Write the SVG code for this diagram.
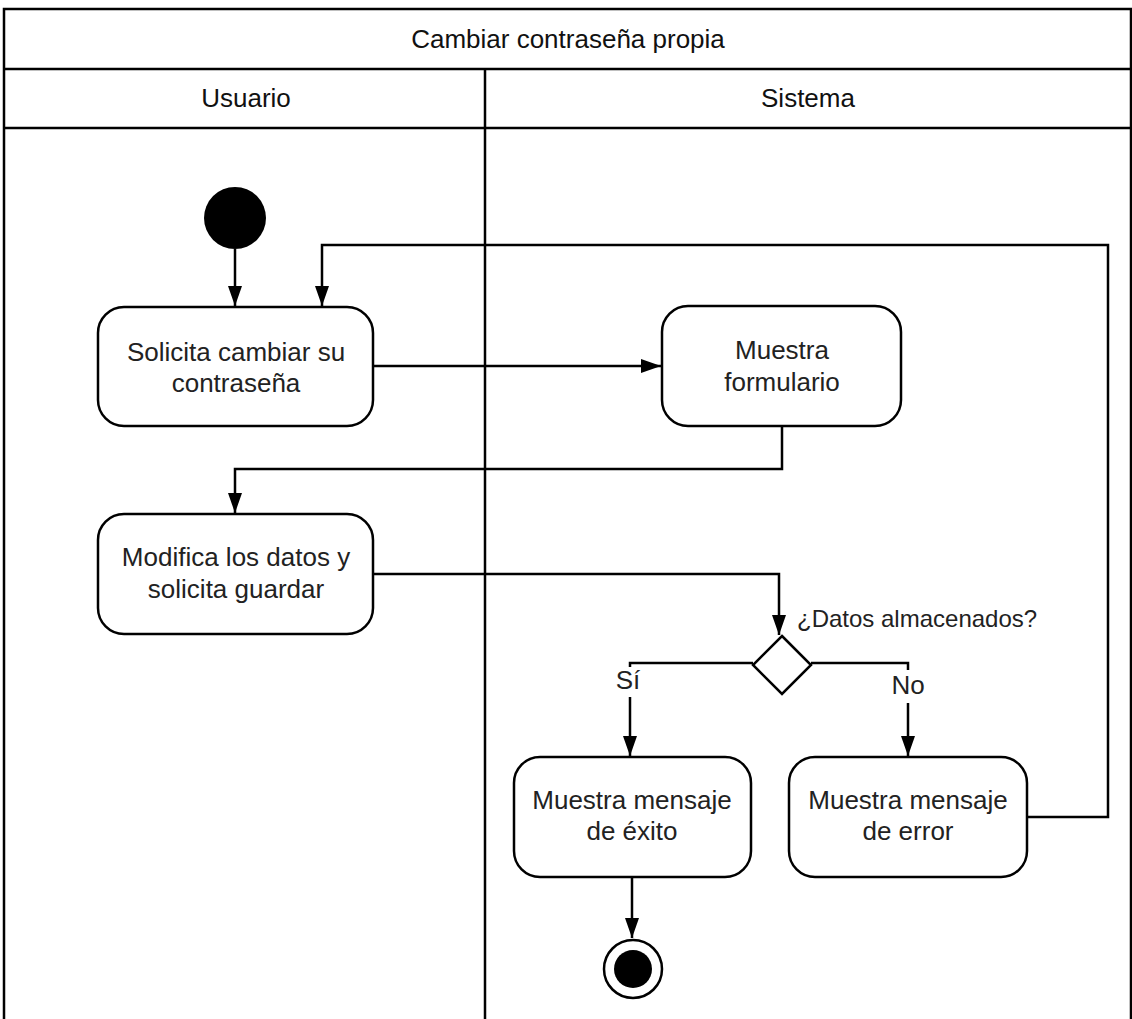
<svg xmlns="http://www.w3.org/2000/svg" width="1132" height="1019" viewBox="0 0 1132 1019">
<style>
.ln{fill:none;stroke:#000;stroke-width:2.5}
.box{fill:#fff;stroke:#000;stroke-width:2.5}
.t{font-family:"Liberation Sans",Arial,sans-serif;font-size:26px;fill:#222;text-anchor:middle}
.h{font-family:"Liberation Sans",Arial,sans-serif;font-size:26px;fill:#111;text-anchor:middle}
</style>
<defs>
<marker id="ah" viewBox="0 0 20 14" refX="20" refY="7" markerWidth="20" markerHeight="14" markerUnits="userSpaceOnUse" orient="auto">
<path d="M0,0 L20,7 L0,14 Z" fill="#000"/>
</marker>
</defs>
<rect width="1132" height="1019" fill="#fff"/>
<g id="pool">
<path class="ln" d="M4,1019 V9 H1131 V1019"/>
<line class="ln" x1="4" y1="69" x2="1131" y2="69"/>
<line class="ln" x1="4" y1="128" x2="1131" y2="128"/>
<line class="ln" x1="485" y1="69" x2="485" y2="1019"/>
<text class="h" x="568" y="48">Cambiar contraseña propia</text>
<text class="h" x="246" y="107">Usuario</text>
<text class="h" x="808" y="107">Sistema</text>
</g>
<g id="connectors">
<line class="ln" x1="235" y1="249" x2="235" y2="306" marker-end="url(#ah)"/>
<polyline class="ln" points="1027,817 1108,817 1108,245 322,245 322,306" marker-end="url(#ah)"/>
<line class="ln" x1="373" y1="366" x2="661" y2="366" marker-end="url(#ah)"/>
<polyline class="ln" points="782,426 782,469 235,469 235,513" marker-end="url(#ah)"/>
<polyline class="ln" points="373,574 779,574 779,635" marker-end="url(#ah)"/>
<polyline class="ln" points="753,663 630,663 630,667"/>
<line class="ln" x1="630" y1="697" x2="630" y2="756" marker-end="url(#ah)"/>
<polyline class="ln" points="811,663 908,663 908,670"/>
<line class="ln" x1="908" y1="703" x2="908" y2="756" marker-end="url(#ah)"/>
<line class="ln" x1="632" y1="877" x2="632" y2="938" marker-end="url(#ah)"/>
<text class="t" x="628" y="689">Sí</text>
<text class="t" x="908" y="694">No</text>
<text class="t" x="797" y="627" style="text-anchor:start;font-size:24px">¿Datos almacenados?</text>
</g>
<g id="start"><circle cx="235" cy="218" r="31" fill="#000"/></g>
<g id="n1">
<rect class="box" x="98" y="307" width="275" height="119" rx="26"/>
<text class="t" x="236" y="361">Solicita cambiar su</text>
<text class="t" x="236" y="392">contraseña</text>
</g>
<g id="n2">
<rect class="box" x="662" y="306" width="239" height="120" rx="26"/>
<text class="t" x="782" y="359">Muestra</text>
<text class="t" x="782" y="391">formulario</text>
</g>
<g id="n3">
<rect class="box" x="98" y="514" width="275" height="120" rx="26"/>
<text class="t" x="236" y="566">Modifica los datos y</text>
<text class="t" x="236" y="598">solicita guardar</text>
</g>
<g id="decision">
<polygon class="box" points="782,636 811,665 782,694 753,665"/>
</g>
<g id="n4">
<rect class="box" x="514" y="757" width="237" height="120" rx="26"/>
<text class="t" x="632" y="809">Muestra mensaje</text>
<text class="t" x="632" y="840">de éxito</text>
</g>
<g id="n5">
<rect class="box" x="789" y="757" width="238" height="120" rx="26"/>
<text class="t" x="908" y="809">Muestra mensaje</text>
<text class="t" x="908" y="840">de error</text>
</g>
<g id="end">
<circle cx="633" cy="969" r="29" fill="#fff" stroke="#000" stroke-width="2.5"/>
<circle cx="633" cy="969" r="19" fill="#000"/>
</g>
</svg>
